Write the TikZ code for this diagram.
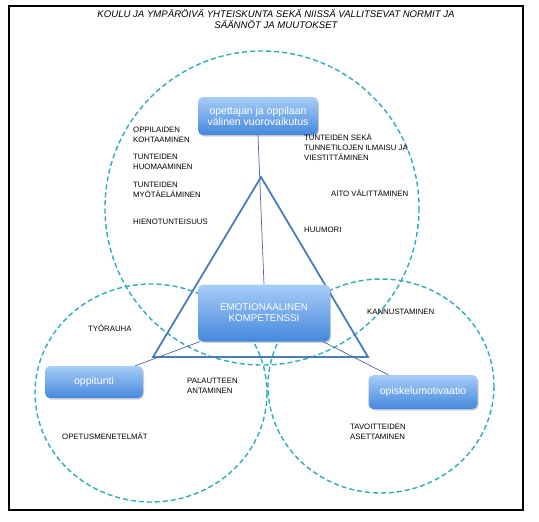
\documentclass[tikz,border=0pt]{standalone}
\usepackage{fontspec}
\setmainfont{Liberation Sans}
\usetikzlibrary{shadows}
\definecolor{ring}{RGB}{45,172,185}
\definecolor{tri}{RGB}{74,124,186}
\definecolor{conn}{RGB}{70,105,150}
\definecolor{boxtop}{RGB}{168,205,247}
\definecolor{boxbot}{RGB}{68,136,220}
\tikzset{
  ringline/.style={draw=ring, line width=1.4pt, dash pattern=on 5pt off 3pt},
  bluebox/.style={rounded corners=5pt, top color=boxtop, bottom color=boxbot, draw=none,
    text=white, align=center, inner sep=0, font=\fontsize{10.5}{11}\selectfont,
    drop shadow={shadow xshift=1pt, shadow yshift=-1.5pt, opacity=0.35}},
  lbl/.style={font=\fontsize{7.8}{10}\selectfont, align=left, inner sep=0, anchor=base west},
  conline/.style={draw=conn, line width=0.7pt},
}
\begin{document}
\begin{tikzpicture}[x=1pt,y=-1pt]
\useasboundingbox (0,0) rectangle (539,522);
\node[draw=black, line width=1.5pt, minimum width=514pt, minimum height=504pt, inner sep=0, anchor=north west] (frame) at (8,5) {};
% circles
\draw[ringline] (262,208) circle (157);
\draw[ringline] (151,393) ellipse [x radius=116, y radius=109];
\draw[ringline] (381,386) ellipse [x radius=113, y radius=107];
% triangle
\coordinate (apex) at (261,177);
\coordinate (bl) at (153,357);
\coordinate (br) at (368,357);
\draw[tri, line width=1.8pt, line join=miter] (apex) -- (bl) -- (br) -- cycle;
% title
\node[font=\itshape\fontsize{9.6}{11}\selectfont, align=center, anchor=base, inner sep=0] (title) at (276,28.5)
  {KOULU JA YMPÄRÖIVÄ YHTEISKUNTA SEKÄ NIISSÄ VALLITSEVAT NORMIT JA\\SÄÄNNÖT JA MUUTOKSET};
% boxes
\node[bluebox, minimum width=120pt, minimum height=38pt] (vuoro) at (258,116) {opettajan ja oppilaan\\välinen vuorovaikutus};
\node[bluebox, minimum width=132pt, minimum height=57pt, font=\fontsize{9.8}{11}\selectfont] (emo) at (264,313) {EMOTIONAALINEN\\KOMPETENSSI};
\node[bluebox, minimum width=98pt, minimum height=32pt] (oppi) at (94,382) {oppitunti};
\node[bluebox, minimum width=109pt, minimum height=34pt] (moti) at (423,392) {opiskelumotivaatio};
% connectors
\draw[conline] (vuoro.south) -- (emo.north);
\draw[conline] ([xshift=2pt]emo.south west) -- ([xshift=-8pt]oppi.north east);
\draw[conline] ([xshift=-7pt]emo.south east) -- ([xshift=20pt]moti.north west);
% labels
\node[lbl] (l1) at (133,142.5) {OPPILAIDEN\\KOHTAAMINEN};
\node[lbl] (l2) at (133,169.5) {TUNTEIDEN\\HUOMAAMINEN};
\node[lbl] (l3) at (133,197.5) {TUNTEIDEN\\MYÖTÄELÄMINEN};
\node[lbl] (l4) at (133,224.5) {HIENOTUNTEISUUS};
\node[lbl] (r1) at (304,160.5) {TUNTEIDEN SEKÄ\\TUNNETILOJEN ILMAISU JA\\VIESTITTÄMINEN};
\node[lbl] (r2) at (331,196.5) {AITO VÄLITTÄMINEN};
\node[lbl] (r3) at (304,232.5) {HUUMORI};
\node[lbl] (b1) at (88,331.5) {TYÖRAUHA};
\node[lbl] (b2) at (187,393.5) {PALAUTTEEN\\ANTAMINEN};
\node[lbl] (b3) at (62,439.5) {OPETUSMENETELMÄT};
\node[lbl] (c1) at (367,314.5) {KANNUSTAMINEN};
\node[lbl] (c2) at (350,439.5) {TAVOITTEIDEN\\ASETTAMINEN};
\end{tikzpicture}
\end{document}
